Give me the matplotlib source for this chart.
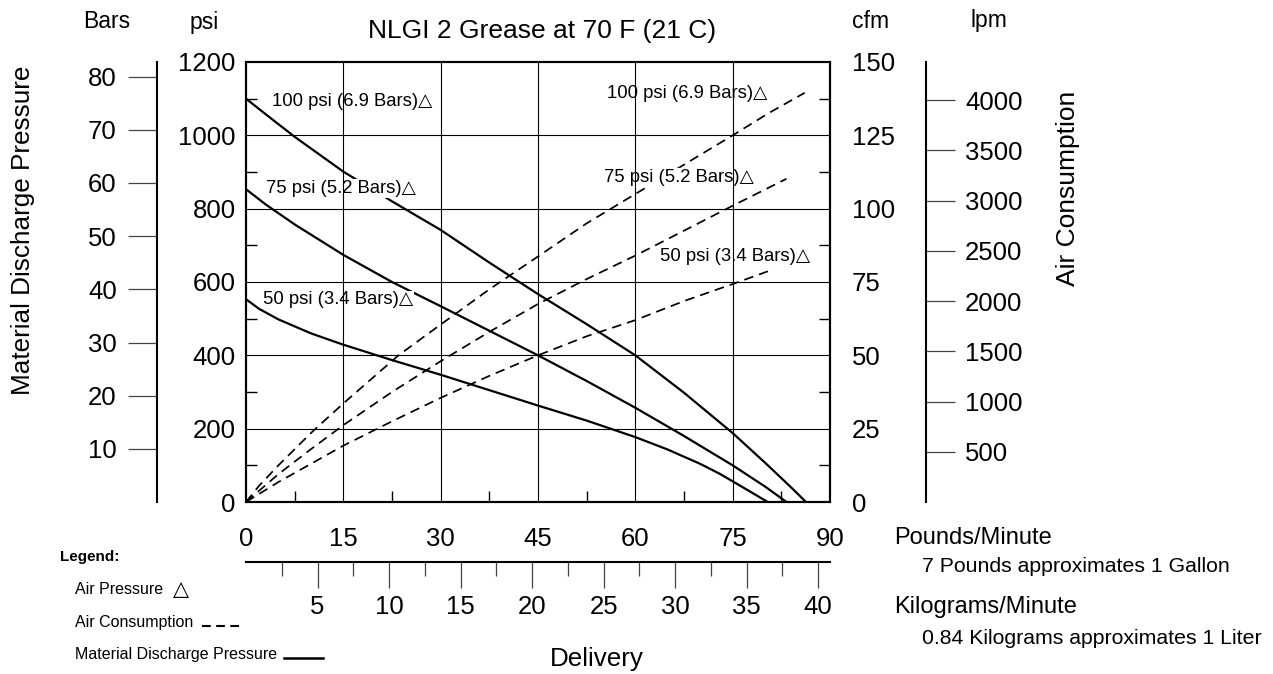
import matplotlib
matplotlib.use("Agg")
import matplotlib.pyplot as plt
from matplotlib.lines import Line2D

plt.rcParams['font.family'] = ['Liberation Sans', 'DejaVu Sans']

# material discharge pressure (psi) vs delivery (lb/min)
lb_100 = [0, 3, 7.5, 15, 22.5, 30, 37.5, 45, 52.5, 60, 67.5, 75, 80, 84, 86.3]
psi_100 = [1100, 1058, 996, 901, 820, 742, 653, 567, 485, 400, 298, 188, 107, 40, 0]
lb_75 = [0, 3, 7.5, 15, 22.5, 30, 37.5, 45, 52.5, 60, 67.5, 75, 80, 83.3]
psi_75 = [853, 812, 757, 674, 600, 534, 467, 400, 330, 257, 180, 100, 42, 0]
lb_50 = [0, 2, 5, 10, 15, 22.5, 30, 37.5, 45, 52.5, 60, 65, 70, 73, 76, 78.5, 80.4]
psi_50 = [553, 527, 498, 460, 429, 387, 347, 305, 263, 222, 177, 143, 104, 77, 46, 20, 0]

# air consumption (cfm) vs delivery (lb/min)
air_lb_100 = [0, 2, 5, 10, 15, 23.5, 30, 37.5, 45, 52.5, 60, 67.5, 75, 80.5, 86.1]
cfm_100 = [0, 5.5, 12.5, 23.5, 33.6, 50, 60.5, 72.5, 83.7, 95, 105, 115, 125, 132.5, 139.5]
air_lb_75 = [0, 5, 10, 15, 22.5, 30, 37.5, 45, 52.5, 60, 67.5, 75, 83.3]
cfm_75 = [0, 9.5, 18, 26.2, 37.5, 48, 58, 67.5, 76, 84, 92.5, 101, 110.2]
air_lb_50 = [0, 5, 10, 15, 22.5, 30, 37.5, 45, 52.5, 60, 67.5, 75, 80.5]
cfm_50 = [0, 6.8, 13, 19.2, 27.5, 35.5, 43, 50, 56.5, 62, 68.5, 74.3, 78.7]

air_labels = ["100 psi (6.9 Bars)", "75 psi (5.2 Bars)", "50 psi (3.4 Bars)"]

lb_ticks = [0, 15, 30, 45, 60, 75, 90]
kg_ticks = [5, 10, 15, 20, 25, 30, 35, 40]
psi_ticks = [0, 200, 400, 600, 800, 1000, 1200]
bar_ticks = [10, 20, 30, 40, 50, 60, 70, 80]
cfm_ticks = [0, 25, 50, 75, 100, 125, 150]
lpm_ticks = [500, 1000, 1500, 2000, 2500, 3000, 3500, 4000]

LB_PER_KG = 2.20462
PSI_PER_BAR = 14.5
LPM_TOP = 4380

W, H = 1273, 674
fig = plt.figure(figsize=(W / 100, H / 100), dpi=100)


def box(x0, y0, x1, y1):
    return [x0 / W, 1 - y1 / H, (x1 - x0) / W, (y1 - y0) / H]


def px(x, y):
    return x / W, 1 - y / H


TICK_FS = 18.5

# main chart: psi on the left, cfm on the right
ax = fig.add_axes(box(246, 62, 830, 502))
ax.set_xlim(0, 90)
ax.set_ylim(0, 1200)
ax.set_xticks(lb_ticks)
ax.set_yticks(psi_ticks)
ax.set_xticks([7.5 + 15 * i for i in range(6)], minor=True)
ax.set_yticks([100 + 200 * i for i in range(6)], minor=True)
ax.tick_params(axis='x', which='major', length=0, pad=18, labelsize=TICK_FS)
ax.tick_params(axis='y', which='major', length=0, pad=7.5, labelsize=TICK_FS)
ax.tick_params(which='minor', direction='in', length=8, width=1)
for s in ax.spines.values():
    s.set_linewidth(1.5)

ax2 = ax.twinx()
ax2.set_ylim(0, 150)
ax2.set_yticks(cfm_ticks)
ax2.set_yticks([12.5 + 25 * i for i in range(6)], minor=True)
ax2.tick_params(axis='y', which='major', length=0, pad=15.8, labelsize=TICK_FS)
ax2.tick_params(axis='y', which='minor', direction='in', length=8, width=1)
for s in ax2.spines.values():
    s.set_linewidth(1.5)

# discharge pressure curves
for xs, ys in [(lb_100, psi_100), (lb_75, psi_75), (lb_50, psi_50)]:
    ax.plot(xs, ys, color='black', lw=1.6, zorder=2, solid_joinstyle='round')

# air consumption curves
for xs, ys in [(air_lb_100, cfm_100), (air_lb_75, cfm_75), (air_lb_50, cfm_50)]:
    ax2.plot(xs, ys, color='black', lw=1.25, ls=(0, (5.5, 3.5)), zorder=2)

# curve labels (white box hides the curve under the text)
left_pos = [(3.96, 1092), (3.08, 854), (2.62, 551)]
right_pos = [(55.7, 1115), (55.2, 884), (63.8, 669)]
for lab, (x1, y1), (x2, y2) in zip(air_labels, left_pos, right_pos):
    for x, y in [(x1, y1), (x2, y2)]:
        ax2.text(x, y, lab + "\u25b3", transform=ax.transData, fontsize=13.3,
                 ha='left', va='center', zorder=3,
                 bbox=dict(fc='white', ec='none', pad=0.6))

# grid on top
for v in lb_ticks[1:-1]:
    ax2.axvline(v, color='black', lw=0.8, zorder=5)
for c in cfm_ticks[1:-1]:
    ax2.axhline(c, color='black', lw=0.8, zorder=5)

# bars scale on the far left
axb = fig.add_axes(box(157, 62, 167, 502))
axb.patch.set_visible(False)
axb.set_ylim(0, 1200 / PSI_PER_BAR)
axb.set_yticks(bar_ticks)
axb.set_xticks([])
for k in ['right', 'top', 'bottom']:
    axb.spines[k].set_visible(False)
axb.spines['left'].set_linewidth(1.5)
axb.tick_params(axis='y', direction='out', length=20.9, width=0.9,
                color='#444444', pad=8, labelsize=TICK_FS)

# lpm scale on the right
axl = fig.add_axes(box(916, 62, 926, 502))
axl.patch.set_visible(False)
axl.set_ylim(0, LPM_TOP)
axl.set_yticks(lpm_ticks)
axl.set_xticks([])
axl.yaxis.tick_right()
for k in ['left', 'top', 'bottom']:
    axl.spines[k].set_visible(False)
axl.spines['right'].set_linewidth(1.5)
axl.tick_params(axis='y', direction='out', length=20.9, width=0.9,
                color='#444444', pad=7.2, labelsize=TICK_FS)

# kilograms/minute scale under the chart
axk = fig.add_axes(box(246, 552, 830, 562))
axk.patch.set_visible(False)
axk.set_xlim(0, 90 / LB_PER_KG)
axk.set_xticks(kg_ticks)
axk.set_xticks([2.5 + 5 * i for i in range(8)], minor=True)
axk.set_yticks([])
for k in ['left', 'right', 'top']:
    axk.spines[k].set_visible(False)
axk.spines['bottom'].set_linewidth(1.5)
axk.tick_params(axis='x', which='major', direction='out', length=18.7, width=0.9,
                color='#444444', pad=5, labelsize=TICK_FS)
axk.tick_params(axis='x', which='minor', direction='out', length=10, width=0.9,
                color='#444444')

# titles and unit headers
fig.text(*px(542, 31), "NLGI 2 Grease at 70 F (21 C)", fontsize=19, ha='center', va='center')
fig.text(*px(107, 22), "Bars", fontsize=16.5, ha='center', va='center')
fig.text(*px(204, 22), "psi", fontsize=16.5, ha='center', va='center')
fig.text(*px(871, 21), "cfm", fontsize=16.5, ha='center', va='center')
fig.text(*px(989, 21), "lpm", fontsize=16.5, ha='center', va='center')
fig.text(*px(23, 230), "Material Discharge Pressure", fontsize=18.8, rotation=90,
         ha='center', va='center')
fig.text(*px(1068, 188), "Air Consumption", fontsize=19, rotation=90,
         ha='center', va='center')
fig.text(*px(597, 659), "Delivery", fontsize=18.7, ha='center', va='center')

fig.text(*px(894, 538), "Pounds/Minute", fontsize=17, ha='left', va='center')
fig.text(*px(922, 567), "7 Pounds approximates 1 Gallon", fontsize=15.3, ha='left', va='center')
fig.text(*px(894, 607), "Kilograms/Minute", fontsize=17, ha='left', va='center')
fig.text(*px(922, 638), "0.84 Kilograms approximates 1 Liter", fontsize=15.3,
         ha='left', va='center')

# legend block
fig.text(*px(60, 557), "Legend:", fontsize=11, fontweight='bold', ha='left', va='center')
fig.text(*px(75, 590), "Air Pressure", fontsize=11.5, ha='left', va='center')
fig.text(*px(181, 589), "\u25b3", fontsize=15, ha='center', va='center')
fig.text(*px(75, 623), "Air Consumption", fontsize=11.5, ha='left', va='center')
fig.text(*px(75, 654), "Material Discharge Pressure", fontsize=11.5, ha='left', va='center')
fig.add_artist(Line2D([202 / W, 241 / W], [1 - 626 / H, 1 - 626 / H], color='black',
                      lw=1.5, ls=(0, (4.2, 2.6))))
fig.add_artist(Line2D([284 / W, 323 / W], [1 - 658 / H, 1 - 658 / H], color='black', lw=1.8))

fig.savefig("out.png", dpi=100)
